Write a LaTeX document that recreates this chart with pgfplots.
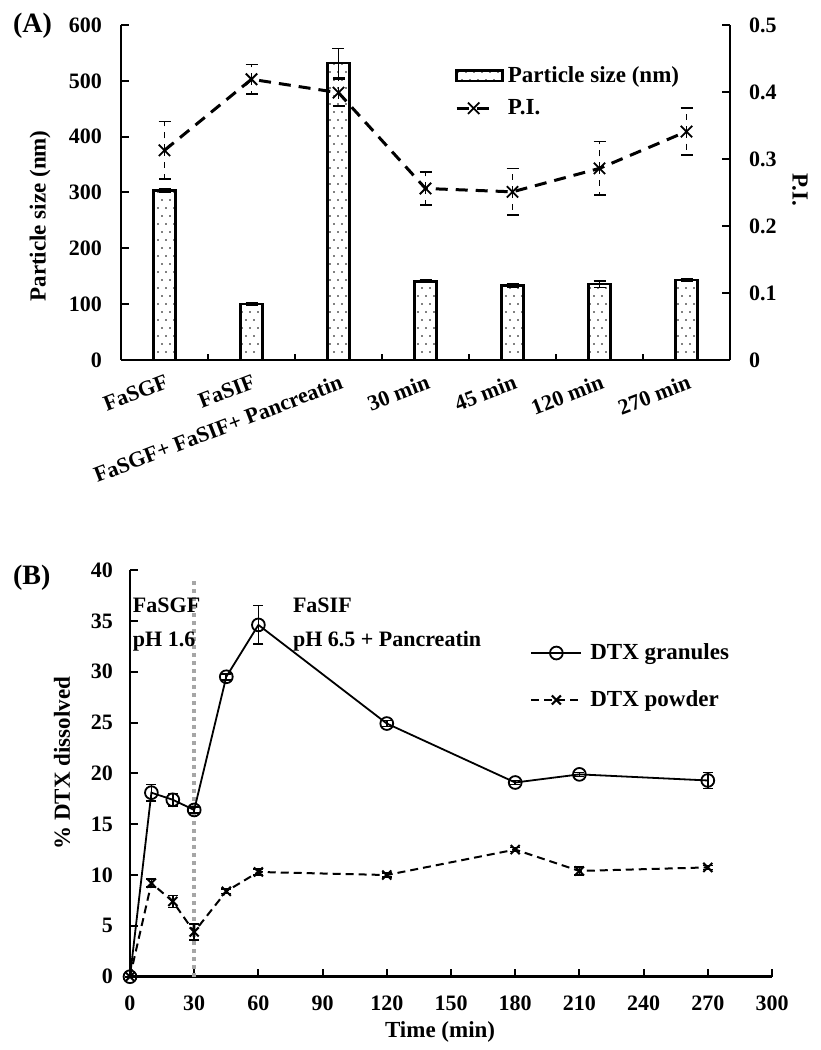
\documentclass[border=0pt]{standalone}
\usepackage{fontspec}
\setmainfont{Liberation Serif}
\usepackage{pgfplots}
\pgfplotsset{compat=1.18}
\usetikzlibrary{patterns}
\pgfdeclarepatternformonly{sparsedots}{\pgfqpoint{-1pt}{-1pt}}{\pgfqpoint{5pt}{9pt}}{\pgfqpoint{4pt}{8pt}}{%
  \pgfpathcircle{\pgfqpoint{1pt}{1pt}}{0.4pt}\pgfusepath{fill}%
  \pgfpathcircle{\pgfqpoint{3pt}{5pt}}{0.4pt}\pgfusepath{fill}}
\pgfplotsset{
  longline/.style={legend image code/.code={%
    \draw[mark repeat=2,mark phase=2,##1] plot coordinates {(0pt,0pt) (12.5pt,0pt) (25pt,0pt)};}},
}
\begin{document}
\begin{tikzpicture}[font=\bfseries]
\path (0,0) rectangle (410pt,525pt);
\node[anchor=west,font=\bfseries\fontsize{14}{16}\selectfont] at (3pt,512pt) {(A)};
\node[anchor=west,font=\bfseries\fontsize{14}{16}\selectfont] at (3pt,236pt) {(B)};
% ---------- Panel A: bars ----------
\begin{axis}[
  at={(60.5pt,345pt)}, anchor=south west,
  scale only axis, width=304.5pt, height=167.5pt,
  xmin=-0.5, xmax=6.5, ymin=0, ymax=600,
  axis y line*=left, axis x line*=bottom,
  axis line style={line width=1.3pt,-},
  xtick={0,...,6},
  xticklabels={FaSGF,FaSIF,FaSGF+ FaSIF+ Pancreatin,30 min,45 min,120 min,270 min},
  x tick label style={rotate=21,anchor=north east,font=\bfseries\fontsize{11}{13}\selectfont,yshift=-3pt,xshift=1pt},
  major x tick style={draw=none},
  minor xtick={0.5,1.5,...,5.5},
  minor x tick style={line width=1pt,black},
  minor tick length=3pt,
  ytick={0,100,...,600},
  y tick label style={font=\bfseries\fontsize{11}{13}\selectfont,xshift=-6pt},
  /pgf/number format/assume math mode=true,
  tick style={line width=1pt,black},
  major tick length=4pt,
  ylabel={Particle size (nm)},
  ylabel style={font=\bfseries\fontsize{11.5}{13}\selectfont,at={(axis description cs:-0.133,0.43)},anchor=center},
  clip=false,
]
\addplot[ybar, bar width=11pt, draw=black, line width=1.3pt, pattern=sparsedots,
  error bars/.cd, y dir=both, y explicit,
  error bar style={line width=0.8pt,solid},
  error mark options={rotate=90,mark size=3pt,line width=0.8pt}]
  coordinates {
  (0,304) +- (0,3)
  (1,100) +- (0,2)
  (2,532) +- (0,26)
  (3,141) +- (0,2)
  (4,133) +- (0,3)
  (5,136) +- (0,6)
  (6,143) +- (0,2)
  };
\end{axis}
% ---------- Panel A: P.I. ----------
\begin{axis}[
  at={(60.5pt,345pt)}, anchor=south west,
  scale only axis, width=304.5pt, height=167.5pt,
  xmin=-0.5, xmax=6.5, ymin=0, ymax=0.5,
  axis y line*=right, axis x line=none,
  axis line style={line width=1.3pt,-},
  ytick={0,0.1,...,0.5},
  yticklabels={0,0.1,0.2,0.3,0.4,0.5},
  y tick label style={font=\bfseries\fontsize{11}{13}\selectfont,xshift=6pt},
  /pgf/number format/assume math mode=true,
  tick style={line width=1pt,black},
  major tick length=4pt,
  ylabel={P.I.},
  ylabel style={font=\bfseries\fontsize{11.5}{13}\selectfont,at={(axis description cs:1.115,0.507)},anchor=center,rotate=180},
  legend style={draw=none,fill=none,at={(0.548,0.89)},anchor=north west,
    font=\bfseries\fontsize{11.5}{13}\selectfont,row sep=3pt,inner sep=0pt},
  legend cell align=left,
  clip=false,
]
\addlegendimage{legend image code/.code={\draw[line width=1.3pt,pattern=sparsedots] (0pt,-2.7pt) rectangle (23pt,2.7pt);}}
\addlegendentry{Particle size (nm)}
\addplot[black, line width=1.5pt, dash pattern=on 6pt off 4pt, mark=x, mark size=4pt,
  mark options={solid,line width=0.9pt},
  error bars/.cd, y dir=both, y explicit,
  error bar style={line width=0.8pt,dash pattern=on 3pt off 3pt},
  error mark options={rotate=90,mark size=3pt,line width=0.8pt,solid}]
  coordinates {
  (0,0.313) +- (0,0.043)
  (1,0.419) +- (0,0.022)
  (2,0.399) +- (0,0.020)
  (3,0.256) +- (0,0.025)
  (4,0.251) +- (0,0.035)
  (5,0.286) +- (0,0.040)
  (6,0.341) +- (0,0.035)
  };
\addlegendentry{P.I.}
\end{axis}
% ---------- Panel B ----------
\begin{axis}[
  at={(65pt,36.65pt)}, anchor=south west,
  scale only axis, width=321pt, height=203.35pt,
  xmin=0, xmax=300, ymin=0, ymax=40,
  axis y line*=left, axis x line*=bottom,
  axis line style={line width=1.3pt,-},
  xtick={0,30,...,300},
  ytick={0,5,...,40},
  tick align=inside,
  tick style={line width=1pt,black},
  major tick length=4pt,
  tick label style={font=\bfseries\fontsize{11}{13}\selectfont},
  y tick label style={xshift=-5pt},
  x tick label style={yshift=-6pt},
  /pgf/number format/assume math mode=true,
  xlabel={Time (min)},
  ylabel={\% DTX dissolved},
  label style={font=\bfseries\fontsize{11.5}{13}\selectfont},
  xlabel style={at={(axis description cs:0.483,-0.136)},anchor=center},
  ylabel style={at={(axis description cs:-0.106,0.525)},anchor=center},
  legend style={draw=none,fill=none,at={(0.623,0.83)},anchor=north west,
    font=\bfseries\fontsize{11.5}{13}\selectfont,row sep=10pt,inner sep=0pt,
    column sep=2pt},
  legend cell align=left,
  clip=false,
]
\addplot[gray!70, line width=2pt, dash pattern=on 2pt off 2pt, forget plot]
  coordinates {(30,0) (30,39)};
\addplot[black, line width=0.9pt, mark=o, mark size=3.2pt, longline,
  error bars/.cd, y dir=both, y explicit,
  error bar style={line width=0.8pt},
  error mark options={rotate=90,mark size=2.5pt,line width=0.8pt}]
  coordinates {
  (0,0) +- (0,0)
  (10,18.1) +- (0,0.8)
  (20,17.4) +- (0,0.6)
  (30,16.4) +- (0,0.3)
  (45,29.5) +- (0,0.3)
  (60,34.6) +- (0,1.9)
  (120,24.9) +- (0,0.3)
  (180,19.1) +- (0,0.2)
  (210,19.9) +- (0,0.2)
  (270,19.3) +- (0,0.8)
  };
\addlegendentry{DTX granules}
\addplot[black, line width=1pt, dash pattern=on 4pt off 2.5pt, mark=x, mark size=3.2pt, longline,
  mark options={solid},
  error bars/.cd, y dir=both, y explicit,
  error bar style={line width=0.8pt,solid},
  error mark options={rotate=90,mark size=2.5pt,line width=0.8pt}]
  coordinates {
  (0,0) +- (0,0)
  (10,9.2) +- (0,0.4)
  (20,7.4) +- (0,0.6)
  (30,4.4) +- (0,0.8)
  (45,8.4) +- (0,0.2)
  (60,10.3) +- (0,0.3)
  (120,10.0) +- (0,0.2)
  (180,12.5) +- (0,0.2)
  (210,10.4) +- (0,0.4)
  (270,10.75) +- (0,0.2)
  };
\addlegendentry{DTX powder}
\node[anchor=north west,align=left,inner sep=0pt,font=\bfseries\fontsize{11}{17}\selectfont] at (axis cs:1.2,37.3) {FaSGF\\pH 1.6};
\node[anchor=north west,align=left,inner sep=0pt,font=\bfseries\fontsize{11}{17}\selectfont] at (axis cs:76,37.3) {FaSIF\\pH 6.5 + Pancreatin};
\end{axis}
\end{tikzpicture}
\end{document}
